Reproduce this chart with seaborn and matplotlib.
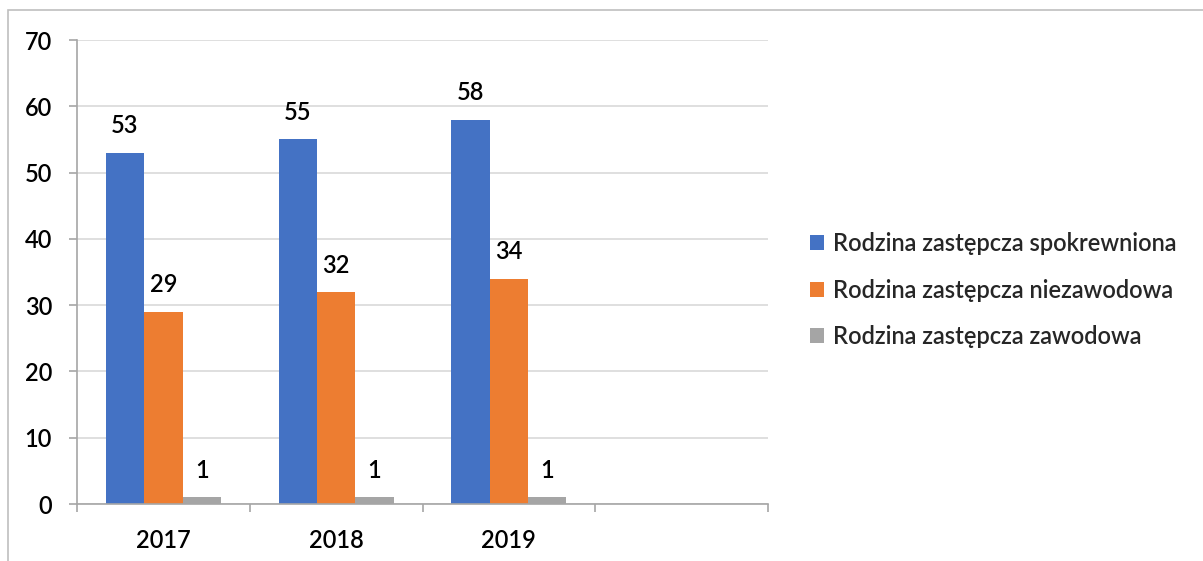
import matplotlib
matplotlib.use("Agg")
import matplotlib.pyplot as plt
import seaborn as sns
import pandas as pd
from matplotlib.patches import Rectangle
from matplotlib.ticker import FixedLocator, NullFormatter

years = ["2017", "2018", "2019"]
series = ["Rodzina zastępcza spokrewniona", "Rodzina zastępcza niezawodowa", "Rodzina zastępcza zawodowa"]
spokrewniona = [53, 55, 58]
niezawodowa = [29, 32, 34]
zawodowa = [1, 1, 1]
colors = ["#4472C4", "#ED7D31", "#A5A5A5"]

rows = []
for s, vals in zip(series, [spokrewniona, niezawodowa, zawodowa]):
    for y, v in zip(years, vals):
        rows.append({"year": y, "series": s, "value": v})
df = pd.DataFrame(rows)

sns.set_theme(style="white")
plt.rcParams["font.family"] = ["Lato", "DejaVu Sans"]
plt.rcParams["font.weight"] = "semibold"
FS = 17

fig = plt.figure(figsize=(12.03, 5.61), dpi=100)
ax = fig.add_axes([77/1203, 1-504/561, (768-77)/1203, (504-40)/561])

sns.barplot(data=df, x="year", y="value", hue="series", order=years,
            hue_order=series, palette=colors, width=2/3, ax=ax,
            saturation=1, edgecolor="none", linewidth=0, legend=True)

ax.set_xlim(-0.5, 3.5)
ax.set_ylim(0, 70)
ax.set_yticks(range(0, 71, 10))
ax.set_xlabel("")
ax.set_ylabel("")

ax.yaxis.grid(True, color="#D9D9D9", linewidth=1.2)
ax.set_axisbelow(True)
for side in ["top", "right"]:
    ax.spines[side].set_visible(False)
for side in ["left", "bottom"]:
    ax.spines[side].set_color("#A6A6A6")
    ax.spines[side].set_linewidth(1.2)

ax.tick_params(axis="y", which="major", length=6, width=1.2, color="#A6A6A6",
               labelsize=FS, pad=12, left=True)
ax.tick_params(axis="x", which="major", length=0, labelsize=FS, pad=18)
ax.xaxis.set_minor_locator(FixedLocator([-0.5, 0.5, 1.5, 2.5, 3.5]))
ax.xaxis.set_minor_formatter(NullFormatter())
ax.tick_params(axis="x", which="minor", length=6, width=1.2, color="#A6A6A6", bottom=True)
for lab in ax.get_xticklabels() + ax.get_yticklabels():
    lab.set_fontweight("semibold")
    lab.set_color("black")

for cont in ax.containers:
    ax.bar_label(cont, labels=[f"{int(v)}" for v in cont.datavalues],
                 padding=11, fontsize=FS, color="black", fontweight="semibold")

handles, labels = ax.get_legend_handles_labels()
leg = ax.legend(handles, labels, loc="center left", bbox_to_anchor=(789/1203, 1-290/561),
                bbox_transform=fig.transFigure, frameon=False,
                prop={"size": FS, "weight": "semibold"},
                handlelength=0.6, handleheight=0.6, handletextpad=0.35, labelspacing=1.0)

fig.patches.append(Rectangle((8/1203, -0.05), 1.2, 1-10/561+0.05, transform=fig.transFigure,
                             fill=False, edgecolor="#BFBFBF", linewidth=1.2))

fig.savefig("out.png", dpi=100)
